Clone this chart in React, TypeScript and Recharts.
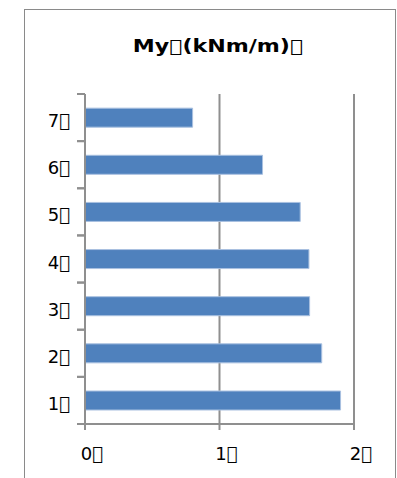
import React from 'react';
import { BarChart, Bar, XAxis, YAxis, CartesianGrid } from 'recharts';

const MISSING = '\uE000';

const categories = ['1', '2', '3', '4', '5', '6', '7'];
const values = [1.9, 1.76, 1.67, 1.665, 1.6, 1.32, 0.8];
const xTicks = [0, 1, 2];
const title = `My${MISSING}(kNm/m)${MISSING}`;

const data = categories.map((c, i) => ({ name: c, value: values[i] }));

const font = '"DejaVu Sans", sans-serif';
const lineColor = '#8f8f8f';
const Y_TICK = 8;
const Y_MARGIN = 7;

// category label plus Excel-style tick marks on the band edges
const CategoryTick = (props: any) => {
  const { x, y, payload } = props;
  const axisX = x + Y_TICK + Y_MARGIN;
  const half = payload?.offset ?? 0;
  return (
    <g>
      {half > 0 && (
        <>
          <line x1={axisX - Y_TICK} x2={axisX} y1={y - half} y2={y - half} stroke={lineColor} strokeWidth={2} />
          <line x1={axisX - Y_TICK} x2={axisX} y1={y + half} y2={y + half} stroke={lineColor} strokeWidth={2} />
        </>
      )}
      <text
        x={x}
        y={y + 3}
        textAnchor="end"
        dominantBaseline="central"
        fontSize={18}
        fontFamily={font}
        fill="#000"
      >
        {`${payload.value}${MISSING}`}
      </text>
    </g>
  );
};

const App: React.FC = () => {
  return (
    <div style={{ position: 'fixed', left: 0, top: 0, width: 397, height: 478, overflow: 'hidden', background: '#fff' }}>
      <div
        style={{
          position: 'absolute',
          left: 24,
          top: 9,
          width: 372,
          height: 490,
          border: '1.5px solid #8a8a8a',
          boxSizing: 'border-box',
        }}
      />
      <div
        style={{
          position: 'absolute',
          left: 40,
          top: 36,
          width: 356,
          textAlign: 'center',
          fontFamily: font,
          fontWeight: 'bold',
          fontSize: 17,
          color: '#000',
          transform: 'scaleX(1.3)',
          transformOrigin: '178px 0',
        }}
      >
        {title}
      </div>
      <div style={{ position: 'absolute', left: 0, top: 0 }}>
        <BarChart
          width={397}
          height={478}
          data={data}
          layout="vertical"
          margin={{ top: 94, right: 43, bottom: 14, left: 0 }}
          barCategoryGap="30%"
        >
          <CartesianGrid vertical horizontal={false} stroke={lineColor} strokeWidth={2} />
          <YAxis
            type="category"
            dataKey="name"
            reversed
            width={85}
            axisLine={{ stroke: lineColor, strokeWidth: 2 }}
            tickLine={false}
            tickSize={Y_TICK}
            tickMargin={Y_MARGIN}
            tick={<CategoryTick />}
          />
          <XAxis
            type="number"
            domain={[0, 2]}
            ticks={xTicks}
            height={40}
            tickSize={6}
            tickMargin={17}
            tickFormatter={(v) => `${v}${MISSING}`}
            tick={{ fill: '#000', fontSize: 18, fontFamily: font, dx: 7 }}
            axisLine={{ stroke: lineColor, strokeWidth: 2 }}
            tickLine={{ stroke: lineColor, strokeWidth: 2 }}
          />
          <Bar
            dataKey="value"
            fill="#4f81bd"
            stroke="#a9c0e0"
            strokeWidth={1}
            isAnimationActive={false}
          />
        </BarChart>
      </div>
    </div>
  );
};

export default App;
